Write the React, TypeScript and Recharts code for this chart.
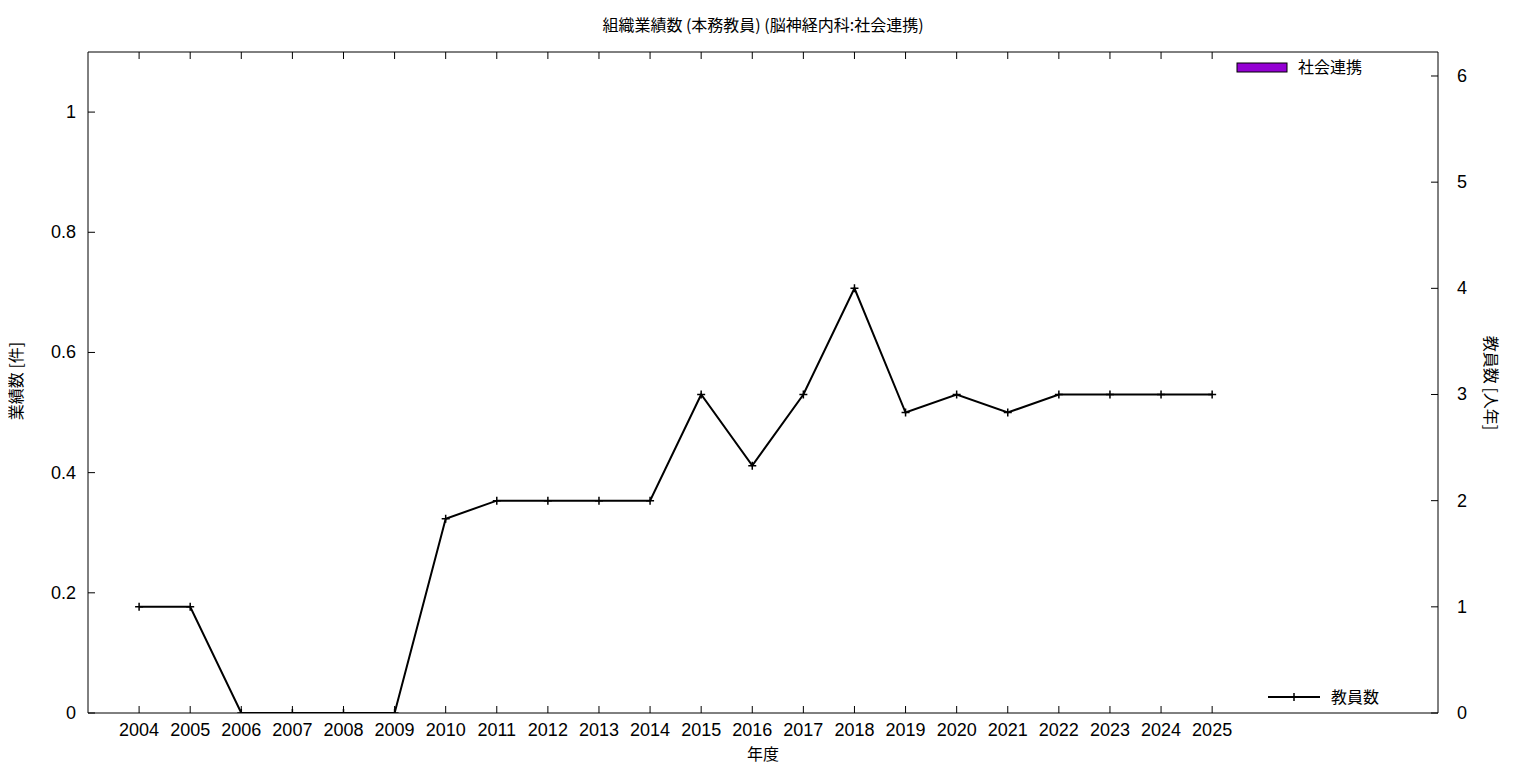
import {
  ComposedChart,
  Bar,
  Line,
  XAxis,
  YAxis,
  Legend,
} from "recharts";

const years = [
  2004, 2005, 2006, 2007, 2008, 2009, 2010, 2011, 2012, 2013, 2014,
  2015, 2016, 2017, 2018, 2019, 2020, 2021, 2022, 2023, 2024, 2025,
];
// 社会連携 (業績数) - no bars in the picture
const socialCount = [
  0, 0, 0, 0, 0, 0, 0, 0, 0, 0, 0,
  0, 0, 0, 0, 0, 0, 0, 0, 0, 0, 0,
];
// 教員数 [人年]
const staff = [
  1, 1, 0, 0, 0, 0, 1.83, 2, 2, 2, 2,
  3, 2.33, 3, 4, 2.83, 3, 2.83, 3, 3, 3, 3,
];
const leftTicks = [0, 0.2, 0.4, 0.6, 0.8, 1];
const rightTicks = [0, 1, 2, 3, 4, 5, 6];

const data = years.map((y, i) => ({
  year: y,
  social: socialCount[i],
  staff: staff[i],
}));

const FONT = "'Liberation Sans', Arial, 'Noto Sans CJK JP', sans-serif";
const CJK = "'Noto Sans CJK JP', 'Liberation Sans', sans-serif";
const TICK = 7;

const BottomTick = (props: any) => {
  const { x, y, payload } = props;
  return (
    <g>
      <line x1={x} y1={y} x2={x} y2={y - TICK} stroke="#000" />
      <text x={x} y={y + 23} textAnchor="middle" fontSize={18} fontFamily={FONT} fill="#000">
        {payload.value}
      </text>
    </g>
  );
};

const TopTick = (props: any) => {
  const { x, y } = props;
  return <line x1={x} y1={y} x2={x} y2={y + TICK} stroke="#000" />;
};

const LeftTick = (props: any) => {
  const { x, y, payload } = props;
  return (
    <g>
      <line x1={x} y1={y} x2={x + TICK} y2={y} stroke="#000" />
      <text x={x - 12} y={y + 6} textAnchor="end" fontSize={18} fontFamily={FONT} fill="#000">
        {payload.value}
      </text>
    </g>
  );
};

const RightTick = (props: any) => {
  const { x, y, payload } = props;
  return (
    <g>
      <line x1={x} y1={y} x2={x - TICK} y2={y} stroke="#000" />
      <text x={x + 19} y={y + 6} textAnchor="start" fontSize={18} fontFamily={FONT} fill="#000">
        {payload.value}
      </text>
    </g>
  );
};

const CrossDot = (props: any) => {
  const { cx, cy } = props;
  if (cx == null || cy == null) return null;
  return (
    <path
      d={`M${cx - 4},${cy}H${cx + 4}M${cx},${cy - 4}V${cy + 4}`}
      stroke="#000"
      strokeWidth={1.5}
      fill="none"
    />
  );
};

const LegendBox = () => (
  <svg width={1536} height={768} style={{ position: "absolute", left: 0, top: 0 }}>
    <rect x={1237} y={63} width={50} height={9} fill="#9400d3" stroke="#000" strokeWidth={1} />
    <text x={1298} y={73} fontSize={16} fontFamily={CJK} fill="#000">
      社会連携
    </text>
    <line x1={1268} y1={697} x2={1320} y2={697} stroke="#000" strokeWidth={2} />
    <path d="M1290,697H1298M1294,693V701" stroke="#000" strokeWidth={1.5} />
    <text x={1331} y={703} fontSize={16} fontFamily={CJK} fill="#000">
      教員数
    </text>
  </svg>
);

const App = () => {
  return (
    <div style={{ position: "relative", width: 1536, height: 768, margin: "-8px 0 0 -8px" }}>
      <ComposedChart
        width={1536}
        height={768}
        data={data}
        margin={{ top: 51, right: 0, bottom: 0, left: 0 }}
      >
        <XAxis
          xAxisId="bottom"
          dataKey="year"
          type="number"
          domain={[2003, 2029.42]}
          ticks={years}
          interval={0}
          height={55}
          tickSize={0}
          tickMargin={0}
          tickLine={false}
          tick={<BottomTick />}
          axisLine={{ stroke: "#000" }}
          allowDataOverflow
        />
        <XAxis
          xAxisId="top"
          orientation="top"
          dataKey="year"
          type="number"
          domain={[2003, 2029.42]}
          ticks={years}
          interval={0}
          height={1}
          tickSize={0}
          tickMargin={0}
          tickLine={false}
          tick={<TopTick />}
          axisLine={{ stroke: "#000" }}
          allowDataOverflow
        />
        <YAxis
          yAxisId="left"
          domain={[0, 1.1]}
          ticks={leftTicks}
          interval={0}
          width={88}
          tickSize={0}
          tickMargin={0}
          tickLine={false}
          tick={<LeftTick />}
          axisLine={{ stroke: "#000" }}
          allowDataOverflow
        />
        <YAxis
          yAxisId="right"
          orientation="right"
          domain={[0, 6.226]}
          ticks={rightTicks}
          interval={0}
          width={98}
          tickSize={0}
          tickMargin={0}
          tickLine={false}
          tick={<RightTick />}
          axisLine={{ stroke: "#000" }}
          allowDataOverflow
        />
        <Bar
          xAxisId="bottom"
          yAxisId="left"
          dataKey="social"
          name="社会連携"
          fill="#9400d3"
          stroke="#000"
          barSize={40}
          isAnimationActive={false}
        />
        <Line
          xAxisId="bottom"
          yAxisId="right"
          dataKey="staff"
          name="教員数"
          type="linear"
          stroke="#000"
          strokeWidth={2}
          dot={<CrossDot />}
          activeDot={false}
          isAnimationActive={false}
        />
        <Legend
          layout="horizontal"
          align="center"
          verticalAlign="middle"
          wrapperStyle={{ position: "absolute", left: 0, top: 0, width: 1536, height: 768, pointerEvents: "none" }}
          content={<LegendBox />}
        />
      </ComposedChart>
      <svg
        width={1536}
        height={768}
        style={{ position: "absolute", left: 0, top: 0, pointerEvents: "none" }}
      >
        <text x={763} y={31} textAnchor="middle" fontSize={16} fontFamily={CJK} fill="#000">
          組織業績数 (本務教員) (脳神経内科:社会連携)
        </text>
        <text x={763} y={760} textAnchor="middle" fontSize={16} fontFamily={CJK} fill="#000">
          年度
        </text>
        <text
          x={15}
          y={381}
          textAnchor="middle"
          dominantBaseline="central"
          fontSize={16}
          fontFamily={CJK}
          fill="#000"
          transform="rotate(-90 15 381)"
        >
          業績数 [件]
        </text>
        <text
          x={1492}
          y={383}
          textAnchor="middle"
          dominantBaseline="central"
          fontSize={16}
          fontFamily={CJK}
          fill="#000"
          transform="rotate(90 1492 383)"
        >
          教員数 [人年]
        </text>
      </svg>
    </div>
  );
};

export default App;
